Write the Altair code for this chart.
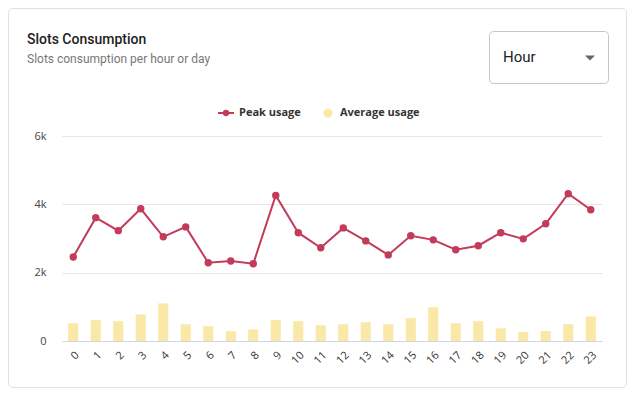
import altair as alt
import pandas as pd

hours = [str(h) for h in range(24)]
peak_usage = [2460, 3610, 3230, 3870, 3050, 3340, 2290, 2340, 2260, 4260, 3170, 2730,
              3310, 2930, 2520, 3080, 2960, 2670, 2790, 3170, 2990, 3430, 4310, 3840]
avg_usage = [520, 610, 580, 780, 1100, 490, 430, 290, 340, 610, 580, 460,
             490, 550, 490, 670, 990, 520, 580, 370, 260, 290, 490, 720]
y_ticks = [0, 2000, 4000, 6000]

title_text = "Slots Consumption"
subtitle_text = "Slots consumption per hour or day"
dropdown_text = "Hour"
legend_labels = ["Peak usage", "Average usage"]

LINE_COLOR = "#c23c5a"
BAR_COLOR = "#f9e8a6"
FONT = "Open Sans"

df = pd.DataFrame({"hour": hours, "peak": peak_usage, "avg": avg_usage})
one = pd.DataFrame({"k": [0]})

xscale = alt.Scale(type="band", paddingInner=0.55, paddingOuter=0.275)
x_enc = alt.X("hour:O", sort=hours, scale=xscale,
              axis=alt.Axis(title=None, labelAngle=-45, ticks=False, grid=False,
                            domainColor="#ccd6eb", labelFont=FONT, labelFontSize=11,
                            labelColor="#333333", labelPadding=8))
y_axis = alt.Axis(title=None, values=y_ticks,
                  labelExpr="datum.value == 0 ? '0' : (datum.value / 1000) + 'k'",
                  domain=False, ticks=False,
                  gridColor="#e6e6e6", labelFont=FONT, labelFontSize=11,
                  labelColor="#444444", labelPadding=16)
yscale = alt.Scale(domain=[0, 6000])

# card border
card = alt.Chart(one).mark_rect(fillOpacity=0, stroke="#e0e0e0", strokeWidth=1,
                                cornerRadius=4).encode(
    x=alt.value(-53.5), x2=alt.value(564.5), y=alt.value(-127.5), y2=alt.value(251.5))

dropdown = alt.Chart(one).mark_rect(fill="white", stroke="#c6c6c6", strokeWidth=1,
                                    cornerRadius=4).encode(
    x=alt.value(427.5), x2=alt.value(546.5), y=alt.value(-104.5), y2=alt.value(-52.5))
dropdown_label = alt.Chart(one).mark_text(text=dropdown_text, align="left",
                                          baseline="alphabetic", font="Roboto",
                                          fontSize=15, color="#222222").encode(
    x=alt.value(441), y=alt.value(-74))
dropdown_arrow = alt.Chart(one).mark_point(shape="M-1,-0.5L1,-0.5L0,0.5Z", filled=True,
                                           size=100, color="#666666", opacity=1).encode(
    x=alt.value(528), y=alt.value(-78))

title = alt.Chart(one).mark_text(text=title_text, align="left", baseline="alphabetic",
                                 font="Roboto", fontSize=14, fontWeight=500,
                                 color="#222222").encode(
    x=alt.value(-35), y=alt.value(-92))
subtitle = alt.Chart(one).mark_text(text=subtitle_text, align="left",
                                    baseline="alphabetic", font="Roboto", fontSize=12,
                                    color="#777777").encode(
    x=alt.value(-35), y=alt.value(-73))

leg_line = alt.Chart(one).mark_rule(color=LINE_COLOR, strokeWidth=2).encode(
    x=alt.value(156), x2=alt.value(172), y=alt.value(-23))
leg_dot = alt.Chart(one).mark_point(filled=True, size=40, color=LINE_COLOR,
                                    opacity=1).encode(x=alt.value(164), y=alt.value(-23))
leg_text1 = alt.Chart(one).mark_text(text=legend_labels[0], align="left",
                                     baseline="middle", font=FONT, fontSize=11,
                                     fontWeight="bold", color="#333333").encode(
    x=alt.value(177), y=alt.value(-23))
leg_dot2 = alt.Chart(one).mark_point(filled=True, size=80, color=BAR_COLOR,
                                     opacity=1).encode(x=alt.value(266), y=alt.value(-23))
leg_text2 = alt.Chart(one).mark_text(text=legend_labels[1], align="left",
                                     baseline="middle", font=FONT, fontSize=11,
                                     fontWeight="bold", color="#333333").encode(
    x=alt.value(278), y=alt.value(-23))

base = alt.Chart(df)
bars = base.mark_bar(color=BAR_COLOR).encode(
    x=x_enc, y=alt.Y("avg:Q", scale=yscale, axis=y_axis))
line = base.mark_line(color=LINE_COLOR, strokeWidth=2).encode(
    x=x_enc, y=alt.Y("peak:Q", scale=yscale, axis=y_axis))
points = base.mark_point(filled=True, size=55, color=LINE_COLOR, opacity=1).encode(
    x=x_enc, y=alt.Y("peak:Q", scale=yscale, axis=y_axis))

chart = alt.layer(
    card, dropdown, dropdown_label, dropdown_arrow,
    title, subtitle, leg_line, leg_dot, leg_text1, leg_dot2, leg_text2,
    bars, line, points
).properties(
    width=540, height=205,
    autosize=alt.AutoSizeParams(type="none"),
    padding={"left": 54, "top": 128, "right": 25, "bottom": 47},
    background="white",
).configure_view(strokeWidth=0)

chart.save("out.html", embed_options={"renderer": "svg", "actions": False})
